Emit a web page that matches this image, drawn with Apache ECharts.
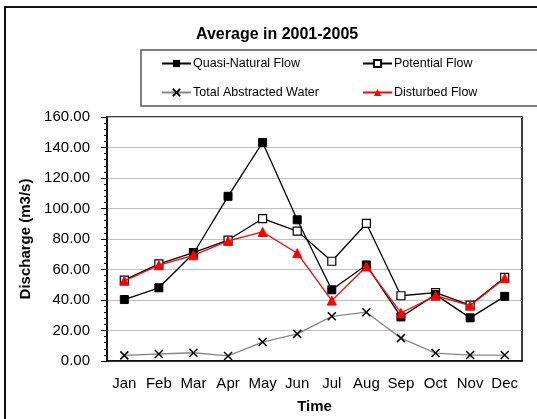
<!DOCTYPE html>
<html>
<head>
<meta charset="utf-8">
<script src="https://cdn.jsdelivr.net/npm/echarts@6/dist/echarts.min.js"></script>
<style>html,body{margin:0;padding:0;background:#fff}#c{width:537px;height:419px}</style>
</head>
<body>
<div id="c"></div>
<script>
const months = ['Jan','Feb','Mar','Apr','May','Jun','Jul','Aug','Sep','Oct','Nov','Dec'];
const quasiNatural = [40.3, 48.0, 70.5, 108.0, 143.3, 92.6, 46.7, 63.0, 28.9, 43.5, 28.3, 42.4];
const potential = [53.0, 63.7, 71.1, 79.3, 93.3, 85.2, 65.4, 90.2, 42.8, 44.8, 36.7, 54.8];
const abstracted = [3.7, 4.6, 5.4, 3.3, 12.4, 17.8, 29.3, 32.0, 15.0, 5.2, 3.9, 3.9];
const disturbed = [52.6, 62.8, 69.3, 78.7, 84.6, 70.7, 39.6, 62.0, 31.5, 42.8, 36.3, 54.3];
const yTicks = [0, 20, 40, 60, 80, 100, 120, 140, 160];

const FONT = 'Liberation Sans, Arial, sans-serif';
const chart = echarts.init(document.getElementById('c'), null, {renderer: 'canvas'});

function legendAt(name, left, top) {
  return {
    data: [name], left: left, top: top, orient: 'horizontal',
    itemWidth: 29, itemHeight: 9, itemGap: 0, padding: 0,
    textStyle: {fontFamily: FONT, fontSize: 12.5, color: '#000', padding: [0, 0, 0, -3]},
    selectedMode: false
  };
}

const option = {
  animation: false,
  backgroundColor: '#fff',
  title: {
    text: 'Average in 2001-2005', left: 191, top: 22,
    textStyle: {fontFamily: FONT, fontSize: 16, fontWeight: 'bold', color: '#000'}
  },
  graphic: [
    {type: 'rect', shape: {x: 5, y: 7, width: 540, height: 420}, style: {fill: 'none', stroke: '#111', lineWidth: 2}, z: 100},
    {type: 'rect', shape: {x: 141, y: 50, width: 410, height: 56}, style: {fill: 'none', stroke: '#555', lineWidth: 1.5}, z: 100}
  ],
  legend: [
    legendAt('Quasi-Natural Flow', 161, 57),
    legendAt('Potential Flow', 362, 57),
    legendAt('Total Abstracted Water', 161, 86),
    legendAt('Disturbed Flow', 362, 86)
  ],
  grid: {left: 107, right: 15, top: 117, bottom: 57, show: true, borderColor: '#000', borderWidth: 1.5, backgroundColor: 'transparent'},
  xAxis: [
    {
      type: 'category', data: months, boundaryGap: true,
      name: 'Time', nameLocation: 'middle', nameGap: 38,
      nameTextStyle: {fontFamily: FONT, fontSize: 15, fontWeight: 'bold', color: '#000'},
      axisLine: {lineStyle: {color: '#000', width: 1.5}},
      axisTick: {inside: true, length: 5, interval: 0, lineStyle: {color: '#000'}},
      axisLabel: {fontFamily: FONT, fontSize: 15, color: '#000', margin: 15, interval: 0, hideOverlap: false},
      splitLine: {show: false}
    },
    {
      type: 'category', data: months, boundaryGap: true, position: 'bottom',
      axisLine: {show: false},
      axisTick: {inside: false, alignWithLabel: true, interval: 0, length: 5, lineStyle: {color: '#000'}},
      axisLabel: {show: false},
      splitLine: {show: false}
    }
  ],
  yAxis: {
    type: 'value', min: yTicks[0], max: yTicks[yTicks.length - 1], interval: 20,
    name: 'Discharge (m3/s)', nameLocation: 'middle', nameGap: 72,
    nameTextStyle: {fontFamily: FONT, fontSize: 15, fontWeight: 'bold', color: '#000'},
    axisLine: {show: true, lineStyle: {color: '#000', width: 1.5}},
    axisTick: {show: true, inside: false, length: 6, lineStyle: {color: '#000'}},
    minorTick: {show: true, splitNumber: 5, length: 3, lineStyle: {color: '#000'}},
    axisLabel: {fontFamily: FONT, fontSize: 15, color: '#000', margin: 17, formatter: v => v.toFixed(2)},
    splitLine: {show: true, lineStyle: {color: '#c0c0c0', width: 1}}
  },
  series: [
    {
      name: 'Quasi-Natural Flow', type: 'line', data: quasiNatural,
      symbol: 'rect', symbolSize: 8,
      lineStyle: {color: '#000', width: 1.3},
      itemStyle: {color: '#000', borderColor: '#000'}, z: 4
    },
    {
      name: 'Potential Flow', type: 'line', data: potential,
      symbol: 'rect', symbolSize: 8,
      lineStyle: {color: '#000', width: 1.3},
      itemStyle: {color: '#fff', borderColor: '#000', borderWidth: 1.2}, z: 3
    },
    {
      name: 'Total Abstracted Water', type: 'line', data: abstracted,
      symbol: 'path://M0,0 L10,10 M10,0 L0,10', symbolSize: 8,
      lineStyle: {color: '#888', width: 1.3},
      itemStyle: {color: 'none', borderColor: '#000', borderWidth: 1.5}, z: 2
    },
    {
      name: 'Disturbed Flow', type: 'line', data: disturbed,
      symbol: 'triangle', symbolSize: 9,
      lineStyle: {color: '#ff0000', width: 1.3},
      itemStyle: {color: '#ff0000', borderColor: '#ff0000'}, z: 5
    }
  ]
};
chart.setOption(option);
</script>
</body>
</html>
